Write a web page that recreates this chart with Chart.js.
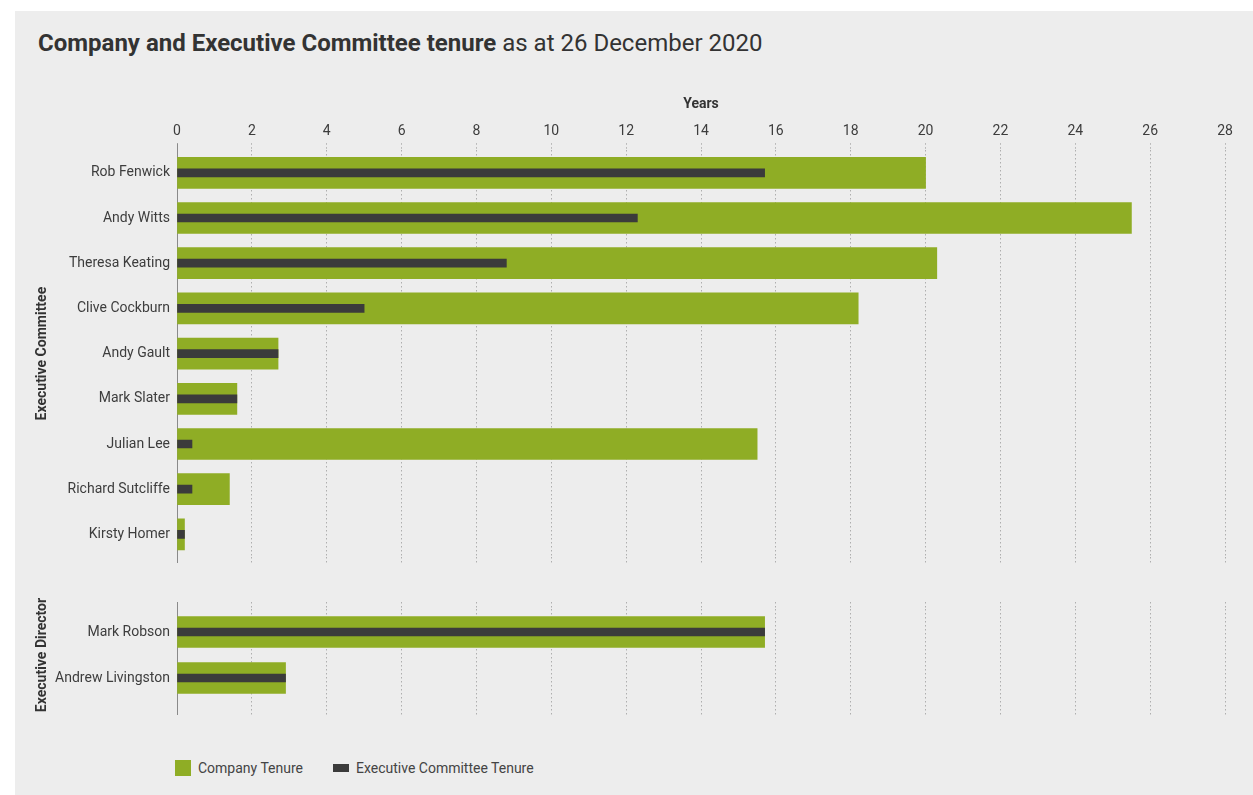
<!DOCTYPE html>
<html>
<head>
<meta charset="utf-8">
<title>Company and Executive Committee tenure</title>
<script src="https://cdn.jsdelivr.net/npm/chart.js@4"></script>
<style>
  html, body { margin: 0; padding: 0; background: #fff; }
  body { width: 1253px; height: 795px; position: relative; overflow: hidden; font-family: Roboto, sans-serif; }
  .panel { position: absolute; left: 15px; top: 11px; right: 0; bottom: 0; background: #ededed; }
  h1 { position: absolute; left: 38px; top: 31px; margin: 0; font-size: 24px; line-height: 24px; color: #333; font-weight: 400; white-space: nowrap; }
  h1 b { font-weight: 700; }
  canvas { position: absolute; left: 20px; }
  #committeeChart { top: 90px; }
  #directorChart { top: 585px; }
  .legend { position: absolute; left: 175px; top: 760px; height: 16px; display: flex; align-items: center; font-size: 14px; color: #444; }
  .legend span.item { display: flex; align-items: center; margin-right: 30px; }
  .legend i { display: inline-block; margin-right: 7px; }
</style>
</head>
<body>
<div class="panel"></div>
<h1><b>Company and Executive Committee tenure</b> as at 26 December 2020</h1>
<canvas id="committeeChart" width="1225" height="473"></canvas>
<canvas id="directorChart" width="1225" height="140"></canvas>
<div class="legend" id="legend"></div>
<script>
// tenure in years
const committeeNames = ['Rob Fenwick', 'Andy Witts', 'Theresa Keating', 'Clive Cockburn', 'Andy Gault',
  'Mark Slater', 'Julian Lee', 'Richard Sutcliffe', 'Kirsty Homer'];
const committeeCompany = [20.0, 25.5, 20.3, 18.2, 2.7, 1.6, 15.5, 1.4, 0.2];
const committeeExec = [15.7, 12.3, 8.8, 5.0, 2.7, 1.6, 0.4, 0.4, 0.2];

const directorNames = ['Mark Robson', 'Andrew Livingston'];
const directorCompany = [15.7, 2.9];
const directorExec = [15.7, 2.9];

const yearsMax = 28;
const yearsStep = 2;

const green = '#8fad25';
const dark = '#3b3b3b';
const gridColor = '#aeaeae';
const axisColor = '#8a8a8a';
const textColor = '#3d3d3d';

Chart.defaults.font.family = 'Roboto, sans-serif';
Chart.defaults.font.size = 14;
Chart.defaults.color = textColor;
Chart.defaults.animation = false;

// keep the plot area fixed to the same edges in both charts
function fixEdges(scale) {
  scale.paddingLeft = 0;
  scale.paddingRight = 0;
  scale.paddingTop = 0;
  scale.paddingBottom = 0;
}

function yearsGrid(tickLength, onArea) {
  return {
    color: gridColor,
    lineWidth: 1,
    drawOnChartArea: onArea,
    tickLength: tickLength,
    tickColor: ctx => (ctx.tick && ctx.tick.value === 0 ? axisColor : gridColor),
    tickBorderDash: ctx => (ctx.tick && ctx.tick.value === 0 ? [] : [1.5, 2.5])
  };
}

function makeDatasets(company, exec) {
  return [
    {
      label: 'Company Tenure',
      data: company,
      backgroundColor: green,
      barThickness: 31,
      grouped: false,
      order: 1,
      xAxisID: 'x'
    },
    {
      label: 'Executive Committee Tenure',
      data: exec,
      backgroundColor: dark,
      barThickness: 8,
      grouped: false,
      order: 0,
      xAxisID: 'x'
    }
  ];
}

function makeOptions(groupTitle, showTicks, topTick, bottomTick, padTop, padBottom) {
  return {
    indexAxis: 'y',
    responsive: false,
    layout: { padding: { left: 0, right: 20, top: padTop, bottom: padBottom } },
    plugins: {
      legend: { display: false },
      tooltip: { enabled: true }
    },
    scales: {
      x: {
        position: 'top',
        min: 0,
        max: yearsMax,
        ticks: { display: showTicks, stepSize: yearsStep, padding: 3, color: textColor },
        title: {
          display: showTicks,
          text: 'Years',
          color: '#333',
          font: { weight: 'bold', size: 14 },
          padding: { top: 6, bottom: 7.6 }
        },
        grid: yearsGrid(topTick, true),
        border: { display: false, dash: [1.5, 2.5] },
        afterFit: fixEdges
      },
      x2: {
        position: 'bottom',
        min: 0,
        max: yearsMax,
        ticks: { display: false, stepSize: yearsStep },
        grid: yearsGrid(bottomTick, false),
        border: { display: false },
        afterFit: fixEdges
      },
      y: {
        grid: { display: false, drawTicks: false },
        border: { display: true, color: axisColor, width: 1 },
        ticks: { color: textColor, padding: 7 },
        title: {
          display: true,
          text: groupTitle,
          color: '#333',
          font: { weight: 'bold', size: 14 },
          padding: { top: 14, bottom: 0 }
        },
        afterFit: scale => {
          scale.width = 157;
          fixEdges(scale);
        }
      }
    }
  };
}

const committeeChart = new Chart(document.getElementById('committeeChart'), {
  type: 'bar',
  data: { labels: committeeNames, datasets: makeDatasets(committeeCompany, committeeExec) },
  options: makeOptions('Executive Committee', true, 7, 6, 0, 0)
});

const directorChart = new Chart(document.getElementById('directorChart'), {
  type: 'bar',
  data: { labels: directorNames, datasets: makeDatasets(directorCompany, directorExec) },
  options: makeOptions('Executive Director', false, 7, 14, 17, 10)
});

// legend keys: a square for company tenure, a flat bar for committee tenure
const keySizes = [[16, 16], [16, 8]];
const legend = document.getElementById('legend');
directorChart.data.datasets.forEach((ds, i) => {
  const item = document.createElement('span');
  item.className = 'item';
  const key = document.createElement('i');
  key.style.width = keySizes[i][0] + 'px';
  key.style.height = keySizes[i][1] + 'px';
  key.style.background = ds.backgroundColor;
  item.appendChild(key);
  item.appendChild(document.createTextNode(ds.label));
  legend.appendChild(item);
});
</script>
</body>
</html>
